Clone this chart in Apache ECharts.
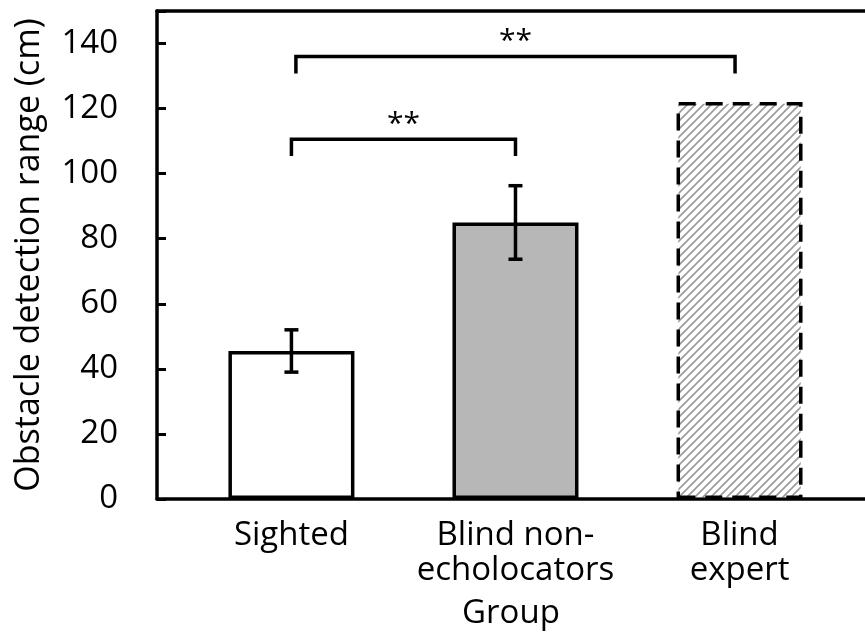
<!DOCTYPE html>
<html>
<head>
<meta charset="utf-8">
<script src="https://cdn.jsdelivr.net/npm/echarts@6/dist/echarts.min.js"></script>
<style>
  html, body { margin: 0; padding: 0; background: #fff; }
  #main { width: 865px; height: 640px; }
</style>
</head>
<body>
<div id="main"></div>
<script>
// data
var categories = ['Sighted', 'Blind non-\necholocators', 'Blind\nexpert']
var positions = [1, 2, 3]
var means = [45.5, 85, 122]
var errors = [6.5, 11.3, null]
// significance brackets: [from, to, top, bottom, label]
var brackets = [
  [1.0, 2.0, 110.6, 105.4, '**'],
  [1.02, 2.98, 136, 130.8, '**']
]
var yTicks = [0, 20, 40, 60, 80, 100, 120, 140]

var FONT = 'Open Sans'

// hatched fill for the expert bar
function hatch() {
  var c = document.createElement('canvas')
  c.width = 8
  c.height = 8
  var ctx = c.getContext('2d')
  ctx.fillStyle = '#fff'
  ctx.fillRect(0, 0, 8, 8)
  ctx.strokeStyle = '#9a9a9a'
  ctx.lineWidth = 1.6
  ctx.beginPath()
  ctx.moveTo(-1, 9); ctx.lineTo(9, -1)
  ctx.moveTo(-1, 1); ctx.lineTo(1, -1)
  ctx.moveTo(7, 9); ctx.lineTo(9, 7)
  ctx.stroke()
  return c
}

var barFill = ['#fff', '#b7b7b7', { image: hatch(), repeat: 'repeat' }]
var barBorder = ['solid', 'solid', [17, 10]]

var barData = positions.map(function (p, i) {
  return {
    value: [p, means[i]],
    itemStyle: {
      color: barFill[i],
      borderColor: '#000',
      borderWidth: 3.5,
      borderType: barBorder[i]
    }
  }
})

var errData = []
positions.forEach(function (p, i) {
  if (errors[i] != null) errData.push([p, means[i] - errors[i], means[i] + errors[i]])
})

var myChart = echarts.init(document.getElementById('main'))
var option = {
  animation: false,
  textStyle: { fontFamily: FONT },
  grid: { left: 157, right: 0, top: 11, bottom: 141 },
  xAxis: [{
    type: 'value',
    min: 0.4,
    max: 3.56,
    position: 'bottom',
    name: 'Group',
    nameLocation: 'middle',
    nameGap: 98,
    nameTextStyle: { fontSize: 33, color: '#000', fontFamily: FONT },
    axisLine: { onZero: false, lineStyle: { color: '#000', width: 3.5 } },
    axisTick: { show: false },
    splitLine: { show: false },
    axisLabel: {
      customValues: positions,
      formatter: function (v) {
        var i = positions.indexOf(v)
        return i >= 0 ? categories[i] : ''
      },
      fontSize: 33,
      lineHeight: 35,
      color: '#000',
      margin: 19,
      fontFamily: FONT
    }
  }, {
    type: 'value',
    min: 0.4,
    max: 3.56,
    position: 'top',
    axisLine: { onZero: false, lineStyle: { color: '#000', width: 3.5 } },
    axisTick: { show: false },
    axisLabel: { show: false },
    splitLine: { show: false }
  }],
  yAxis: {
    type: 'value',
    min: 0,
    max: 150,
    interval: 20,
    name: 'Obstacle detection range (cm)',
    nameLocation: 'middle',
    nameGap: 111,
    nameRotate: 90,
    nameTextStyle: { fontSize: 34, color: '#000', fontFamily: FONT },
    axisLine: { show: true, lineStyle: { color: '#000', width: 3.5 } },
    axisTick: { show: true, inside: true, length: 9, lineStyle: { color: '#000', width: 3 } },
    splitLine: { show: false },
    axisLabel: {
      fontSize: 33,
      color: '#000',
      margin: 39,
      fontFamily: FONT,
      formatter: function (v) {
        return yTicks.indexOf(v) >= 0 ? String(v) : ''
      }
    }
  },
  series: [{
    type: 'bar',
    barWidth: 126,
    data: barData,
    z: 2
  }, {
    type: 'custom',
    data: errData,
    z: 3,
    renderItem: function (params, api) {
      var x = api.value(0)
      var lo = api.coord([x, api.value(1)])
      var hi = api.coord([x, api.value(2)])
      var w = 7
      var st = { stroke: '#000', lineWidth: 3.5 }
      return {
        type: 'group',
        children: [
          { type: 'line', shape: { x1: lo[0], y1: lo[1], x2: hi[0], y2: hi[1] }, style: st },
          { type: 'line', shape: { x1: lo[0] - w, y1: lo[1], x2: lo[0] + w, y2: lo[1] }, style: st },
          { type: 'line', shape: { x1: hi[0] - w, y1: hi[1], x2: hi[0] + w, y2: hi[1] }, style: st }
        ]
      }
    }
  }, {
    type: 'custom',
    data: brackets,
    z: 3,
    renderItem: function (params, api) {
      var a = api.coord([api.value(0), api.value(3)])
      var b = api.coord([api.value(0), api.value(2)])
      var c = api.coord([api.value(1), api.value(2)])
      var d = api.coord([api.value(1), api.value(3)])
      var label = brackets[params.dataIndex][4]
      return {
        type: 'group',
        children: [
          { type: 'polyline', shape: { points: [a, b, c, d] }, style: { stroke: '#000', lineWidth: 3.5, fill: null } },
          {
            type: 'text',
            x: (b[0] + c[0]) / 2,
            y: b[1] - 15,
            style: { text: label, fontSize: 30, fontFamily: FONT, fill: '#000', align: 'center', verticalAlign: 'middle' }
          }
        ]
      }
    }
  }]
}
myChart.setOption(option)
</script>
</body>
</html>
